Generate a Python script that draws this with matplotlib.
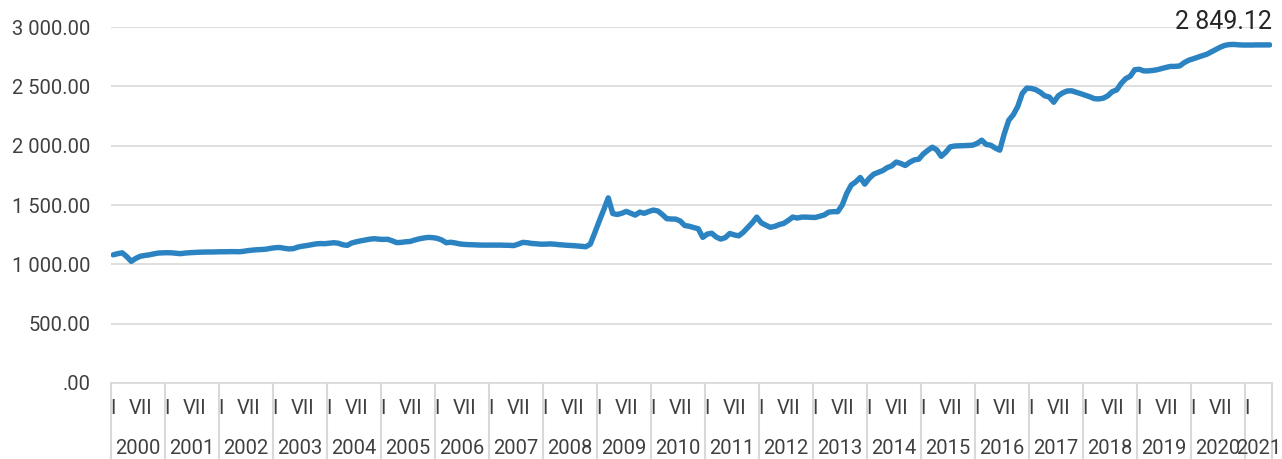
import matplotlib
matplotlib.use("Agg")
import matplotlib.pyplot as plt
import matplotlib.transforms as mtransforms

years = [str(y) for y in range(2000, 2022)]
month_labels = ["I", "VII"]

values = [
    # 2000
    1080, 1090, 1097, 1065, 1025, 1050, 1068, 1075, 1080, 1088, 1095, 1097,
    # 2001
    1098, 1097, 1093, 1090, 1095, 1098, 1100, 1102, 1103, 1104, 1104, 1105,
    # 2002
    1106, 1106, 1107, 1107, 1106, 1110, 1116, 1120, 1123, 1125, 1128, 1135,
    # 2003
    1140, 1142, 1135, 1130, 1132, 1145, 1153, 1158, 1165, 1172, 1175, 1174,
    # 2004
    1178, 1182, 1178, 1165, 1160, 1180, 1190, 1198, 1205, 1212, 1216, 1212,
    # 2005
    1210, 1211, 1198, 1183, 1185, 1190, 1193, 1205, 1215, 1222, 1227, 1225,
    # 2006
    1219, 1205, 1182, 1186, 1180, 1172, 1168, 1166, 1165, 1163, 1162, 1162,
    # 2007
    1162, 1162, 1162, 1161, 1160, 1158, 1170, 1185, 1182, 1176, 1173, 1170,
    # 2008
    1170, 1172, 1170, 1166, 1163, 1160, 1158, 1155, 1152, 1148, 1170, 1265,
    # 2009
    1365, 1460, 1560, 1428, 1420, 1430, 1446, 1430, 1415, 1440, 1430, 1445,
    # 2010
    1457, 1450, 1420, 1385, 1382, 1381, 1365, 1327, 1321, 1310, 1300, 1227,
    # 2011
    1255, 1262, 1230, 1213, 1225, 1260, 1248, 1240, 1270, 1310, 1350, 1398,
    # 2012
    1350, 1330, 1312, 1320, 1335, 1345, 1370, 1398, 1390, 1398, 1398, 1396,
    # 2013
    1395, 1405, 1416, 1440, 1444, 1444, 1500, 1598, 1668, 1695, 1732, 1676,
    # 2014
    1725, 1760, 1775, 1790, 1815, 1830, 1862, 1850, 1833, 1860, 1880, 1886,
    # 2015
    1930, 1960, 1987, 1965, 1910, 1945, 1990, 1997, 1999, 2000, 2002, 2004,
    # 2016
    2020, 2046, 2010, 2004, 1980, 1962, 2100, 2214, 2260, 2330, 2440, 2485,
    # 2017
    2482, 2472, 2450, 2420, 2410, 2366, 2420, 2445, 2461, 2462, 2450, 2438,
    # 2018
    2425, 2412, 2396, 2394, 2400, 2420, 2455, 2470, 2525, 2565, 2585, 2640,
    # 2019
    2644, 2630, 2630, 2634, 2640, 2650, 2660, 2668, 2668, 2672, 2700, 2720,
    # 2020
    2732, 2745, 2758, 2770, 2790, 2810, 2830, 2845, 2852, 2853, 2850, 2848,
    # 2021
    2848, 2848, 2849, 2849, 2849, 2849.12,
]
last_label = "2 849.12"
yticks = [0, 500, 1000, 1500, 2000, 2500, 3000]
ytick_labels = [".00", "500.00", "1 000.00", "1 500.00", "2 000.00", "2 500.00", "3 000.00"]

plt.rcParams['font.family'] = ['Roboto', 'DejaVu Sans']

W, H = 1282, 459
fig = plt.figure(figsize=(W / 100, H / 100), dpi=100)
left, right = 111 / W, 1272 / W
top, bottom = 1 - 27 / H, 1 - 383 / H
ax = fig.add_axes([left, bottom, right - left, top - bottom])

n = len(values)
x = list(range(n))
line_color = "#2c83c1"
grid_color = "#d9d9d9"
text_color = "#404040"

ax.plot(x, values, color=line_color, lw=3.9, solid_joinstyle="round",
        solid_capstyle="round", zorder=3)

ax.set_xlim(-0.5, n - 0.5)
ax.set_ylim(0, 3000)
ax.set_yticks(yticks)
ax.set_yticklabels(ytick_labels)
ax.tick_params(axis="y", length=0, pad=15, labelsize=14.5, labelcolor=text_color)
ax.set_xticks([])
for s in ["top", "right", "left"]:
    ax.spines[s].set_visible(False)
ax.spines["bottom"].set_color(grid_color)
ax.spines["bottom"].set_linewidth(1.2)
ax.yaxis.grid(True, color=grid_color, lw=1.2)
ax.set_axisbelow(True)

# category axis: separators and labels
trans = mtransforms.blended_transform_factory(ax.transData, ax.transAxes)
ax_h = 356.0
y_month = (383 - 409) / ax_h
y_year = (383 - 449) / ax_h
y_sep_bottom = (383 - 470) / ax_h
for k, yr in enumerate(years):
    start = 12 * k
    ax.plot([start - 0.5, start - 0.5], [0, y_sep_bottom], transform=trans,
            color=grid_color, lw=1.5, clip_on=False)
    count = min(12, n - start)
    for j, ml in enumerate(month_labels):
        pos = start + 6 * j
        if pos < n:
            ax.text(pos, y_month, ml, transform=trans, ha="center", va="center",
                    fontsize=14.5, color=text_color)
    xc = start + (count - 1) / 2
    ax.text(xc, y_year, yr, transform=trans, ha="center",
            va="center", fontsize=14.5, color=text_color)
ax.plot([n - 0.5, n - 0.5], [0, y_sep_bottom], transform=trans,
        color=grid_color, lw=1.5, clip_on=False)

ax.annotate(last_label, xy=(n - 0.5, values[-1]), xytext=(0, 16.5),
            textcoords="offset points", ha="right", va="center",
            fontsize=18, color="#262626", annotation_clip=False)

fig.savefig("out.png", dpi=100)
